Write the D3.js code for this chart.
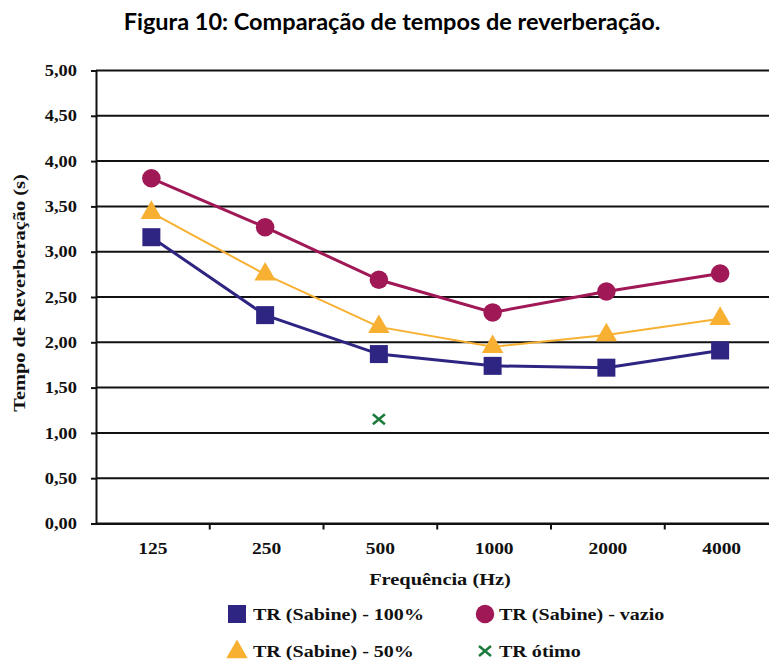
<!DOCTYPE html>
<html><head><meta charset="utf-8">
<script src="https://cdn.jsdelivr.net/npm/d3@7"></script>
<style>body{margin:0;background:#fff}svg{display:block}
.serif{font-family:"Liberation Serif","Tinos","DejaVu Serif",serif;font-weight:bold;}
</style>
</head><body>
<script>
const categories = ["125","250","500","1000","2000","4000"];
const sabine100 = [3.16, 2.30, 1.87, 1.74, 1.72, 1.91];
const sabineVazio = [3.81, 3.27, 2.69, 2.33, 2.56, 2.76];
const sabine50 = [3.43, 2.75, 2.17, 1.95, 2.08, 2.26];
const otimo = [null, null, 1.15, null, null, null];
const yTicks = [0,0.5,1,1.5,2,2.5,3,3.5,4,4.5,5];

const W=769,H=660;
const svg=d3.select("body").append("svg").attr("width",W).attr("height",H);
const L=96,R=778.5,T=70.5,B=523.5;
const x=d3.scaleBand().domain(categories).range([L,R]);
const y=d3.scaleLinear().domain([0,5]).range([B,T]);
const fmt=v=>d3.format(".2f")(v).replace(".",",");

function stretchText(sel,s){
  sel.each(function(){
    const t=d3.select(this);
    const tx=+t.attr("x")||0, ty=+t.attr("y")||0;
    t.attr("x",0).attr("y",0).attr("transform",`translate(${tx},${ty}) scale(${s},1)`);
  });
}

svg.append("text").attr("x",392).attr("y",30).attr("text-anchor","middle")
 .style("font-family","Lato,'Open Sans',sans-serif").style("font-weight","bold").style("font-size","23.5px")
 .text("Figura 10: Comparação de tempos de reverberação.");

svg.append("g").selectAll("line").data(yTicks).join("line")
 .attr("x1",L).attr("x2",R).attr("y1",d=>y(d)).attr("y2",d=>y(d))
 .attr("stroke","#111").attr("stroke-width",2);

const ya=svg.append("g").attr("transform",`translate(${L},0)`)
 .call(d3.axisLeft(y).tickValues(yTicks).tickFormat(fmt).tickSize(5).tickPadding(14));
ya.attr("font-family",null).attr("font-size",null);
ya.select(".domain").attr("stroke","#111").attr("stroke-width",2);
ya.selectAll(".tick line").attr("stroke","#111").attr("stroke-width",2);
ya.selectAll("text").attr("class","serif").style("font-size","16px").attr("fill","#111");
stretchText(ya.selectAll("text"),1.15);

const xa=svg.append("g").attr("transform",`translate(0,${B})`)
 .call(d3.axisBottom(x).tickSize(0).tickPadding(19));
xa.attr("font-family",null).attr("font-size",null);
xa.select(".domain").attr("stroke","#111").attr("stroke-width",2);
xa.selectAll("text").attr("class","serif").style("font-size","16px").attr("fill","#111");
stretchText(xa.selectAll("text"),1.22);
svg.append("g").selectAll("line").data(categories.slice(1)).join("line")
 .attr("x1",d=>x(d)).attr("x2",d=>x(d)).attr("y1",B).attr("y2",B+6)
 .attr("stroke","#111").attr("stroke-width",2);

svg.append("text").attr("class","serif").attr("transform","translate(25,293) rotate(-90) scale(1.2,1)").attr("text-anchor","middle")
 .style("font-size","17px").attr("fill","#111")
 .text("Tempo de Reverberação (s)");
svg.append("text").attr("class","serif").attr("transform","translate(440,585) scale(1.2,1)").attr("text-anchor","middle")
 .style("font-size","17px").attr("fill","#111")
 .text("Frequência (Hz)");

const cx=d=>x(d)+x.bandwidth()/2-1.5;
const line=d3.line().x((d,i)=>cx(categories[i])).y(d=>y(d));
const C100="#2E2583",CV="#A01856",C50="#F7B032",CO="#1B7A3C";

svg.append("path").datum(sabineVazio).attr("d",line).attr("fill","none").attr("stroke",CV).attr("stroke-width",3);
svg.append("path").datum(sabine50).attr("d",line).attr("fill","none").attr("stroke",C50).attr("stroke-width",2);
svg.append("path").datum(sabine100).attr("d",line).attr("fill","none").attr("stroke",C100).attr("stroke-width",3);

const sym=(type,size)=>d3.symbol().type(type).size(size)();
const xMark="M-6,-5L6,5M-6,5L6,-5";
svg.append("g").selectAll("path").data(sabineVazio).join("path")
 .attr("transform",(d,i)=>`translate(${cx(categories[i])},${y(d)})`).attr("d",sym(d3.symbolCircle,270)).attr("fill",CV);
svg.append("g").selectAll("path").data(sabine50).join("path")
 .attr("transform",(d,i)=>`translate(${cx(categories[i])},${y(d)})`).attr("d",sym(d3.symbolTriangle,200)).attr("fill",C50);
svg.append("g").selectAll("rect").data(sabine100).join("rect")
 .attr("x",(d,i)=>cx(categories[i])-9).attr("y",d=>y(d)-9).attr("width",18).attr("height",18).attr("fill",C100);
svg.append("g").selectAll("path").data(otimo.map((v,i)=>({v,c:categories[i]})).filter(d=>d.v!=null)).join("path")
 .attr("transform",d=>`translate(${cx(d.c)},${y(d.v)})`).attr("d",xMark).attr("fill","none").attr("stroke",CO).attr("stroke-width",2.5);

const lg=svg.append("g").attr("class","serif").style("font-size","17px").attr("fill","#111");
lg.append("rect").attr("x",228).attr("y",605).attr("width",18).attr("height",18).attr("fill",C100);
lg.append("path").attr("transform","translate(485,614)").attr("d",sym(d3.symbolCircle,270)).attr("fill",CV);
lg.append("path").attr("transform","translate(237,652)").attr("d",sym(d3.symbolTriangle,200)).attr("fill",C50);
lg.append("path").attr("transform","translate(485,651)").attr("d",xMark).attr("fill","none").attr("stroke",CO).attr("stroke-width",2.5);
const legTexts=[["TR (Sabine) - 100%",253,620],["TR (Sabine) - vazio",499,620],["TR (Sabine) - 50%",253,657],["TR ótimo",499,657]];
lg.selectAll("text").data(legTexts).join("text").attr("x",d=>d[1]).attr("y",d=>d[2]).text(d=>d[0]);
stretchText(lg.selectAll("text"),1.18);
</script>
</body></html>
